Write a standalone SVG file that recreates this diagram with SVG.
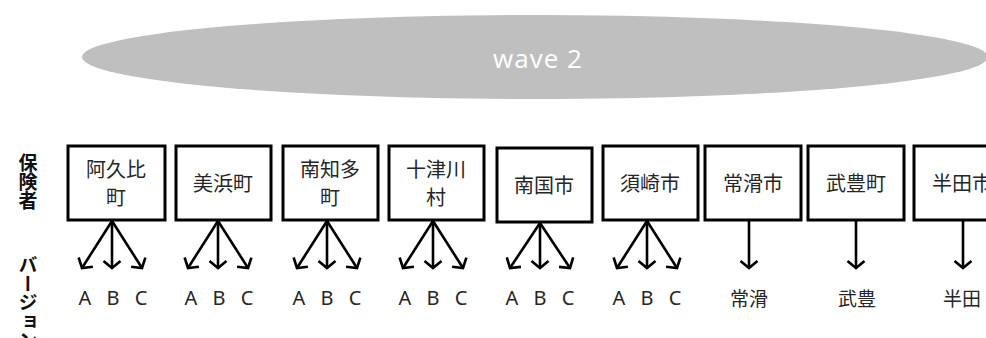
<svg xmlns="http://www.w3.org/2000/svg" width="986" height="338" viewBox="0 0 986 338">
<defs>
<style>
.box{fill:#fff;stroke:#000;stroke-width:3}
.bt{font-family:"Noto Sans CJK JP","Noto Sans",sans-serif;font-size:20px;fill:#262626;text-anchor:middle}
.ver{font-family:"Noto Sans","Open Sans",sans-serif;font-size:20px;fill:#262626;text-anchor:middle}
.vj{font-family:"Noto Sans CJK JP",sans-serif;font-size:19px;fill:#262626;text-anchor:middle}
.side{font-family:"Noto Sans CJK JP",sans-serif;font-size:19px;font-weight:700;fill:#111;writing-mode:vertical-rl}
.arr{stroke:#000;stroke-width:2.6;fill:none;marker-end:url(#ah)}
</style>
<marker id="ah" markerUnits="userSpaceOnUse" markerWidth="20" markerHeight="24" refX="10" refY="12" orient="auto" overflow="visible">
<path d="M3,3.5 L10,12 L3,20.5" fill="none" stroke="#000" stroke-width="2.6" stroke-linejoin="miter"/>
</marker>
</defs>
<rect width="986" height="338" fill="#fff"/>
<g id="wave2">
<ellipse cx="535" cy="57" rx="453" ry="42" fill="#bfbfbf"/>
<text x="538" y="68" font-family="Open Sans, sans-serif" font-size="26" letter-spacing="1" fill="#fff" text-anchor="middle">wave 2</text>
</g>
<g id="labels">
<text class="side" x="28" y="153" letter-spacing="0">保険者</text>
<text class="side" x="28" y="255" letter-spacing="0">バージョン</text>
</g>
<g id="n1"><rect class="box" x="68" y="146" width="97" height="74"/><text class="bt" x="116" y="177">阿久比</text><text class="bt" x="116" y="205">町</text></g>
<g id="n2"><rect class="box" x="176" y="146" width="95" height="74"/><text class="bt" x="223" y="191">美浜町</text></g>
<g id="n3"><rect class="box" x="283" y="146" width="95" height="74"/><text class="bt" x="330" y="177">南知多</text><text class="bt" x="330" y="205">町</text></g>
<g id="n4"><rect class="box" x="389" y="146" width="95" height="74"/><text class="bt" x="436" y="177">十津川</text><text class="bt" x="436" y="205">村</text></g>
<g id="n5"><rect class="box" x="497" y="148" width="95" height="74"/><text class="bt" x="544" y="193">南国市</text></g>
<g id="n6"><rect class="box" x="603" y="146" width="95" height="74"/><text class="bt" x="650" y="191">須崎市</text></g>
<g id="n7"><rect class="box" x="705" y="146" width="96" height="74"/><text class="bt" x="753" y="191">常滑市</text></g>
<g id="n8"><rect class="box" x="808" y="146" width="96" height="74"/><text class="bt" x="856" y="191">武豊町</text></g>
<g id="n9"><rect class="box" x="914" y="146" width="96" height="74"/><text class="bt" x="962" y="191">半田市</text></g>
<g id="connectors">
<line class="arr" x1="112" y1="221" x2="82" y2="268"/><line class="arr" x1="112" y1="221" x2="112" y2="268"/><line class="arr" x1="112" y1="221" x2="142" y2="268"/>
<line class="arr" x1="218" y1="221" x2="188" y2="268"/><line class="arr" x1="218" y1="221" x2="218" y2="268"/><line class="arr" x1="218" y1="221" x2="248" y2="268"/>
<line class="arr" x1="327" y1="221" x2="297" y2="268"/><line class="arr" x1="327" y1="221" x2="327" y2="268"/><line class="arr" x1="327" y1="221" x2="357" y2="268"/>
<line class="arr" x1="433" y1="221" x2="403" y2="268"/><line class="arr" x1="433" y1="221" x2="433" y2="268"/><line class="arr" x1="433" y1="221" x2="463" y2="268"/>
<line class="arr" x1="540" y1="223" x2="510" y2="268"/><line class="arr" x1="540" y1="223" x2="540" y2="268"/><line class="arr" x1="540" y1="223" x2="570" y2="268"/>
<line class="arr" x1="647" y1="221" x2="617" y2="268"/><line class="arr" x1="647" y1="221" x2="647" y2="268"/><line class="arr" x1="647" y1="221" x2="677" y2="268"/>
<line class="arr" x1="749" y1="221" x2="749" y2="268"/>
<line class="arr" x1="856" y1="221" x2="856" y2="268"/>
<line class="arr" x1="963" y1="221" x2="963" y2="268"/>
</g>
<g id="versions">
<text class="ver" x="85" y="305">A</text><text class="ver" x="113" y="305">B</text><text class="ver" x="141" y="305">C</text>
<text class="ver" x="191" y="305">A</text><text class="ver" x="219" y="305">B</text><text class="ver" x="247" y="305">C</text>
<text class="ver" x="299" y="305">A</text><text class="ver" x="327" y="305">B</text><text class="ver" x="355" y="305">C</text>
<text class="ver" x="405" y="305">A</text><text class="ver" x="433" y="305">B</text><text class="ver" x="461" y="305">C</text>
<text class="ver" x="512" y="305">A</text><text class="ver" x="540" y="305">B</text><text class="ver" x="568" y="305">C</text>
<text class="ver" x="619" y="305">A</text><text class="ver" x="647" y="305">B</text><text class="ver" x="675" y="305">C</text>
<text class="vj" x="749" y="306">常滑</text>
<text class="vj" x="857" y="306">武豊</text>
<text class="vj" x="962" y="306">半田</text>
</g>
</svg>
